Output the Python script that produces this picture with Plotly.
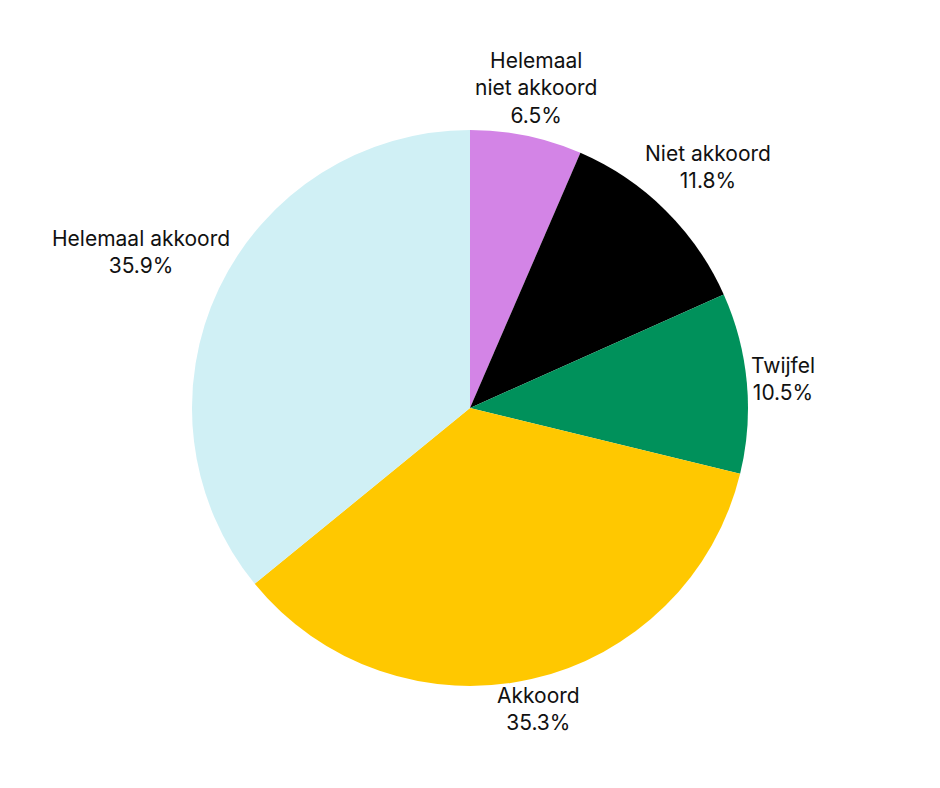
import math
import plotly.graph_objects as go

labels = ["Helemaal niet akkoord", "Niet akkoord", "Twijfel", "Akkoord", "Helemaal akkoord"]
label_lines = [["Helemaal", "niet akkoord"], ["Niet akkoord"], ["Twijfel"], ["Akkoord"], ["Helemaal akkoord"]]
values = [6.5, 11.8, 10.5, 35.3, 35.9]
colors = ["#D384E6", "#000000", "#00915B", "#FFC800", "#D0F0F5"]

FONT = "Inter"
FSIZE = 21
W, H = 940, 788
M = dict(l=0, r=16, t=122, b=110)
PW, PH = W - M["l"] - M["r"], H - M["t"] - M["b"]
R = min(PW, PH) / 2.0

fig = go.Figure(go.Pie(
    labels=labels,
    values=values,
    sort=False,
    direction="clockwise",
    rotation=0,
    automargin=False,
    domain=dict(x=[0, 1], y=[0, 1]),
    marker=dict(colors=colors, line=dict(width=0)),
    textinfo="none",
    showlegend=False,
    hovertemplate="%{label}<br>%{value:.1f}%<extra></extra>",
))

# outside labels placed along each slice's bisector, just clear of the rim
total = sum(values)
cum = 0.0
char_w = FSIZE * 0.527
line_h = FSIZE * 1.3
for lines, v in zip(label_lines, values):
    theta = 2 * math.pi * (cum + v / 2.0) / total
    cum += v
    ux, uy = math.sin(theta), math.cos(theta)
    txt_lines = lines + [f"{v:.1f}%"]
    bw = char_w * max(len(s) for s in txt_lines)
    bh = line_h * len(txt_lines)
    d = R * 0.982 + abs(ux) * bw / 2 + abs(uy) * bh / 2
    fig.add_annotation(
        x=0.5 + ux * d / PW,
        y=0.5 + uy * d / PH,
        xref="paper", yref="paper",
        text="<br>".join(txt_lines),
        showarrow=False,
        xanchor="center", yanchor="middle",
        align="center",
        font=dict(family=FONT, size=FSIZE, color="#111111"),
    )

fig.update_layout(
    width=W,
    height=H,
    margin=M,
    paper_bgcolor="white",
    plot_bgcolor="white",
)

fig.write_html("out.html")
